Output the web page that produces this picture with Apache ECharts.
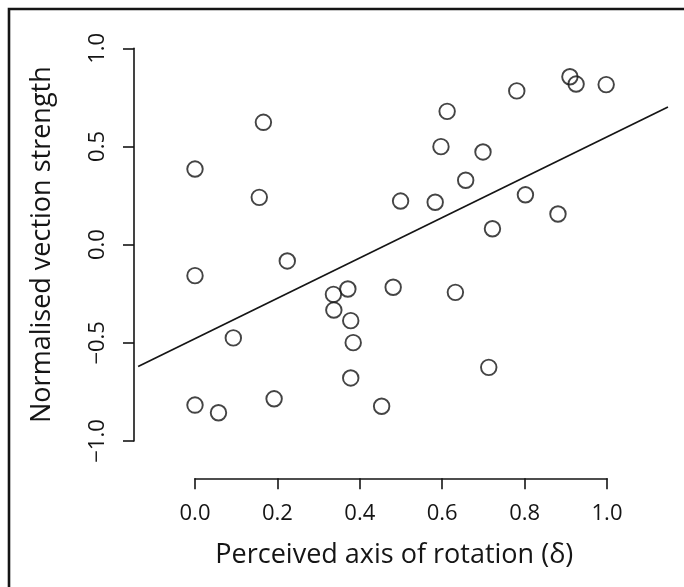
<!DOCTYPE html>
<html>
<head>
<meta charset="utf-8">
<script src="https://cdn.jsdelivr.net/npm/echarts@6/dist/echarts.min.js"></script>
<style>
html,body{margin:0;padding:0;background:#fff;}
#chart{width:684px;height:587px;}
</style>
</head>
<body>
<div id="chart"></div>
<script>
// Perceived axis of rotation (delta)
const xVals = [0.166, 0.000, 0.156, 0.224, 0.612, 0.597, 0.699, 0.657, 0.499, 0.583,
               0.722, 0.781, 0.910, 0.925, 0.998, 0.802, 0.881, 0.000, 0.093, 0.000,
               0.057, 0.192, 0.336, 0.337, 0.371, 0.481, 0.632, 0.378, 0.384, 0.378,
               0.453, 0.713];
// Normalised vection strength
const yVals = [0.623, 0.385, 0.241, -0.083, 0.679, 0.499, 0.472, 0.328, 0.222, 0.216,
               0.081, 0.783, 0.855, 0.818, 0.815, 0.254, 0.156, -0.158, -0.475, -0.817,
               -0.856, -0.785, -0.253, -0.333, -0.226, -0.217, -0.243, -0.387, -0.499, -0.679,
               -0.823, -0.625];
// regression line
const fitIntercept = -0.479;
const fitSlope = 1.028;
const fitXRange = [-0.138, 1.148];
// tick labels
const xTicks = [0.0, 0.2, 0.4, 0.6, 0.8, 1.0];
const yTicks = [-1.0, -0.5, 0.0, 0.5, 1.0];
const xTitle = 'Perceived axis of rotation (δ)';
const yTitle = 'Normalised vection strength';

const points = xVals.map((x, i) => [x, yVals[i]]);
const fitLine = fitXRange.map(x => [x, fitIntercept + fitSlope * x]);

const ink = '#151515';
const font = '"Open Sans", "Noto Sans", sans-serif';
const fmt = v => (v < 0 ? '\u2212' : '') + Math.abs(v).toFixed(1);

// pixel mapping of the reference: x 0..1 -> 195..607, y -1..1 -> 441..48.3
const X0 = 195, XS = 412, Y0 = 244.65, YS = 196.35;
const dataX = [-0.14, 1.15], dataY = [-1.1, 1.1];

const chart = echarts.init(document.getElementById('chart'), null, {renderer: 'canvas'});
chart.setOption({
  animation: false,
  backgroundColor: '#ffffff',
  grid: [
    {left: X0 + dataX[0] * XS, width: (dataX[1] - dataX[0]) * XS,
     top: Y0 - dataY[1] * YS, height: (dataY[1] - dataY[0]) * YS},
    {left: X0, width: XS, top: 420, height: 58.3},
    {left: 134, width: 10, top: Y0 - YS, height: 2 * YS}
  ],
  xAxis: [
    {gridIndex: 0, type: 'value', min: dataX[0], max: dataX[1], show: false},
    {gridIndex: 1, type: 'value', min: xTicks[0], max: xTicks[xTicks.length - 1],
     interval: xTicks[1] - xTicks[0], position: 'bottom',
     axisLine: {show: true, lineStyle: {color: ink, width: 1.6}},
     axisTick: {show: true, length: 11, inside: false, lineStyle: {color: ink, width: 1.6}},
     axisLabel: {show: true, margin: 24, fontSize: 22, fontFamily: font, color: ink, formatter: fmt},
     splitLine: {show: false}},
    {gridIndex: 2, type: 'value', show: false}
  ],
  yAxis: [
    {gridIndex: 0, type: 'value', min: dataY[0], max: dataY[1], show: false},
    {gridIndex: 1, type: 'value', show: false},
    {gridIndex: 2, type: 'value', min: yTicks[0], max: yTicks[yTicks.length - 1],
     interval: yTicks[1] - yTicks[0], position: 'left',
     axisLine: {show: true, lineStyle: {color: ink, width: 1.6}},
     axisTick: {show: true, length: 11, inside: false, lineStyle: {color: ink, width: 1.6}},
     axisLabel: {show: true, rotate: 90, margin: 25, fontSize: 22, fontFamily: font, color: ink, formatter: fmt},
     splitLine: {show: false}}
  ],
  series: [
    {type: 'line', xAxisIndex: 0, yAxisIndex: 0, data: fitLine, symbol: 'none',
     lineStyle: {color: ink, width: 1.7}, silent: true, z: 2},
    {type: 'scatter', xAxisIndex: 0, yAxisIndex: 0, data: points, symbol: 'circle', symbolSize: 15.5,
     itemStyle: {color: 'rgba(0,0,0,0)', borderColor: ink, borderWidth: 1.9}, z: 3}
  ],
  graphic: [
    {type: 'rect', shape: {x: 9, y: 9, width: 720, height: 640},
     style: {fill: 'none', stroke: ink, lineWidth: 2.6}, silent: true},
    {type: 'text', x: 394.3, y: 555,
     style: {text: xTitle, fontSize: 27, fontFamily: font, fill: ink, align: 'center', verticalAlign: 'middle'}},
    {type: 'text', x: 42, y: 244.6, rotation: Math.PI / 2,
     style: {text: yTitle, fontSize: 27, fontFamily: font, fill: ink, align: 'center', verticalAlign: 'middle'}}
  ]
});
</script>
</body>
</html>
